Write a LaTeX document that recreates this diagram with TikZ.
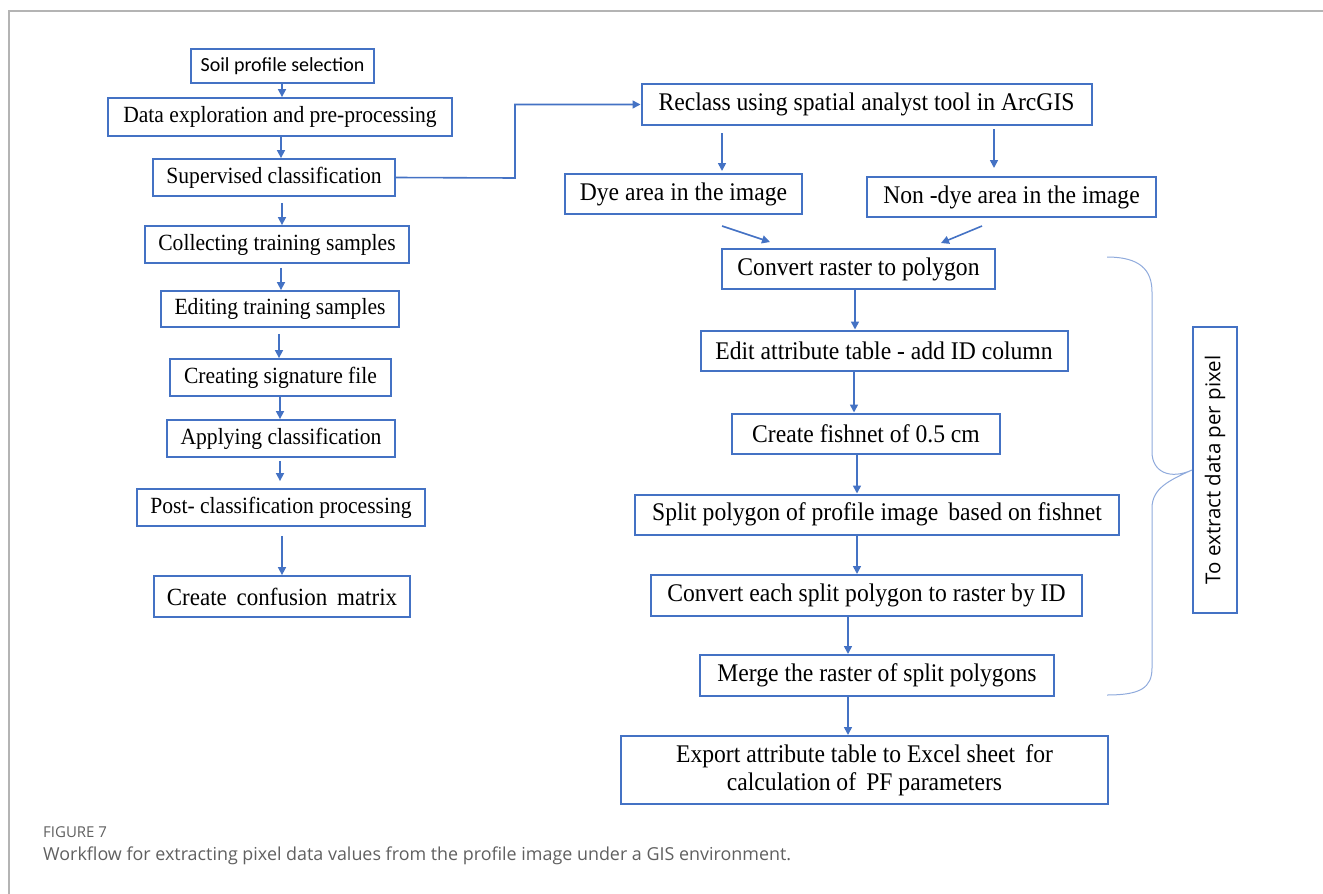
\documentclass[tikz,border=0pt]{standalone}
\usepackage{fontspec}
\setmainfont{Liberation Serif}[FakeStretch=0.93]
\newfontfamily\calfont{Carlito}
\newfontfamily\capfont{Open Sans}
\usetikzlibrary{arrows.meta,calc}
\definecolor{bblue}{HTML}{4472C4}
\definecolor{brc}{HTML}{8FAADC}
\definecolor{capgray}{HTML}{606060}
\definecolor{framegray}{HTML}{B4B4B4}
\begin{document}
\begin{tikzpicture}[x=1pt,y=-1pt,
  lbox/.style={draw=bblue,line width=1.8pt,inner sep=0pt,font=\fontsize{23.2}{26}\selectfont},
  rbox/.style={draw=bblue,line width=2pt,inner sep=0pt,font=\fontsize{25.4}{28}\selectfont},
  arr/.style={draw=bblue,line width=1.6pt,-{Triangle[length=8pt,width=8pt]}},
  brace/.style={draw=brc,line width=1pt},
  frameline/.style={draw=framegray,line width=1.5pt}]
\useasboundingbox (0,0) rectangle (1323,894);
% frame
\coordinate (ftl) at (9,11);
\coordinate (ftr) at (1323,11);
\coordinate (fbl) at (9,894);
\draw[frameline] (ftr) -- (ftl) -- (fbl);
% left column
\node[lbox,minimum width=183pt,minimum height=34pt] (soil) at (282.5,66) {\calfont\fontsize{20}{24}\selectfont Soil profile selection};
\node[lbox,minimum width=344pt,minimum height=38pt] (data) at (280,117) {Data exploration and pre-processing};
\node[lbox,minimum width=242pt,minimum height=37pt] (sup) at (274,177.5) {Supervised classification};
\node[lbox,minimum width=264pt,minimum height=37pt] (coll) at (277,244.5) {Collecting training samples};
\node[lbox,minimum width=238pt,minimum height=36pt] (edit) at (280,309) {Editing training samples};
\node[lbox,minimum width=221pt,minimum height=37pt] (creat) at (280.5,377.5) {Creating signature file};
\node[lbox,minimum width=228pt,minimum height=37pt] (apply) at (281,438.5) {Applying classification};
\node[lbox,minimum width=288pt,minimum height=37pt] (post) at (281,507.5) {Post- classification processing};
\node[lbox,minimum width=256pt,minimum height=41pt,font=\fontsize{24.7}{28}\selectfont] (conf) at (282,596.5) {Create\, confusion\, matrix};
% right column
\node[rbox,minimum width=450pt,minimum height=41pt] (reclass) at (866.5,104.5) {Reclass using spatial analyst tool in ArcGIS};
\node[rbox,minimum width=237pt,minimum height=40pt] (dye) at (683.5,194) {Dye area in the image};
\node[rbox,minimum width=289pt,minimum height=40pt] (nondye) at (1011.5,197) {Non -dye area in the image};
\node[rbox,minimum width=273pt,minimum height=40pt] (conv) at (858.5,269) {Convert raster to polygon};
\node[rbox,minimum width=367pt,minimum height=40pt] (attr) at (884,350.5) {Edit attribute table - add ID column};
\node[rbox,minimum width=268pt,minimum height=40pt] (fish) at (866,433.5) {Create fishnet of 0.5 cm};
\node[rbox,minimum width=484pt,minimum height=40pt] (split) at (877,514.5) {Split polygon of profile image\, based on fishnet};
\node[rbox,minimum width=431pt,minimum height=41pt] (each) at (866.5,595.5) {Convert each split polygon to raster by ID};
\node[rbox,minimum width=354pt,minimum height=41pt] (merge) at (877,675.5) {Merge the raster of split polygons};
\node[rbox,minimum width=487pt,minimum height=68pt,align=center] (export) at (864.5,770) {Export attribute table to Excel sheet\, for\\calculation of\, PF parameters};
\node[rbox,minimum width=286pt,minimum height=44pt,rotate=90,font=\capfont\fontsize{20.5}{24}\selectfont] (tb) at (1215,470) {To extract data per pixel};
% caption
\node[anchor=west,inner sep=0pt,text=capgray,font=\capfont\fontsize{15}{18}\selectfont] (fig) at (43,832) {FIGURE 7};
\node[anchor=west,inner sep=0pt,text=capgray,font=\capfont\fontsize{17.9}{20}\selectfont] (cap) at (43,856) {Workflow for extracting pixel data values from the profile image under a GIS environment.};
% left arrows
\draw[arr] ([xshift=-0.5pt]soil.south) -- ([xshift=2pt]data.north);
\draw[arr] ([xshift=1pt]data.south) -- ([xshift=7pt]sup.north);
\draw[arr] ([xshift=8pt,yshift=-6pt]sup.south) -- ([xshift=5pt]coll.north);
\draw[arr] ([xshift=4pt,yshift=-4pt]coll.south) -- ([xshift=1pt]edit.north);
\draw[arr] ([xshift=-1pt,yshift=-6pt]edit.south) -- ([xshift=-1.5pt]creat.north);
\draw[arr] ([xshift=-0.5pt]creat.south) -- ([xshift=-1pt]apply.north);
\draw[arr] ([xshift=-1pt,yshift=-3pt]apply.south) -- ([xshift=-1pt,yshift=7pt]post.north);
\draw[arr] ([xshift=1pt,yshift=-9pt]post.south) -- (conf.north);
% link to right column
\coordinate (turn) at (515,178);
\draw[arr] (sup.east) -- (turn) |- (reclass.west);
% right arrows
\draw[arr] ([xshift=-144.5pt,yshift=-7pt]reclass.south) -- ([xshift=38.5pt,yshift=2pt]dye.north);
\draw[arr] ([xshift=127.5pt,yshift=-3pt]reclass.south) -- ([xshift=-17.5pt,yshift=8pt]nondye.north);
\draw[arr] ([xshift=38.5pt,yshift=-11pt]dye.south) -- ([xshift=-88.5pt,yshift=6pt]conv.north);
\draw[arr] ([xshift=-29.5pt,yshift=-8pt]nondye.south) -- ([xshift=82.5pt,yshift=5pt]conv.north);
\draw[arr] ([xshift=-3.5pt]conv.south) -- ([xshift=-29pt]attr.north);
\draw[arr] ([xshift=-30pt]attr.south) -- ([xshift=-12pt]fish.north);
\draw[arr] ([xshift=-9pt]fish.south) -- ([xshift=-20pt]split.north);
\draw[arr] ([xshift=-20pt]split.south) -- ([xshift=-9.5pt]each.north);
\draw[arr] ([xshift=-18.5pt]each.south) -- ([xshift=-29pt]merge.north);
\draw[arr] ([xshift=-29pt]merge.south) -- ([xshift=-16.5pt]export.north);
% brace
\coordinate (btop) at (1107,257);
\coordinate (bbot) at (1107,695);
\draw[brace] (btop) .. controls (1140,257) and (1152,270) .. (1152,292) -- (1152,452)
  .. controls (1152,472) and (1170,480) .. (tb.north)
  .. controls (1170,480) and (1152,488) .. (1152,508) -- (1152,668)
  .. controls (1152,688) and (1140,695) .. (bbot);
\end{tikzpicture}
\end{document}
